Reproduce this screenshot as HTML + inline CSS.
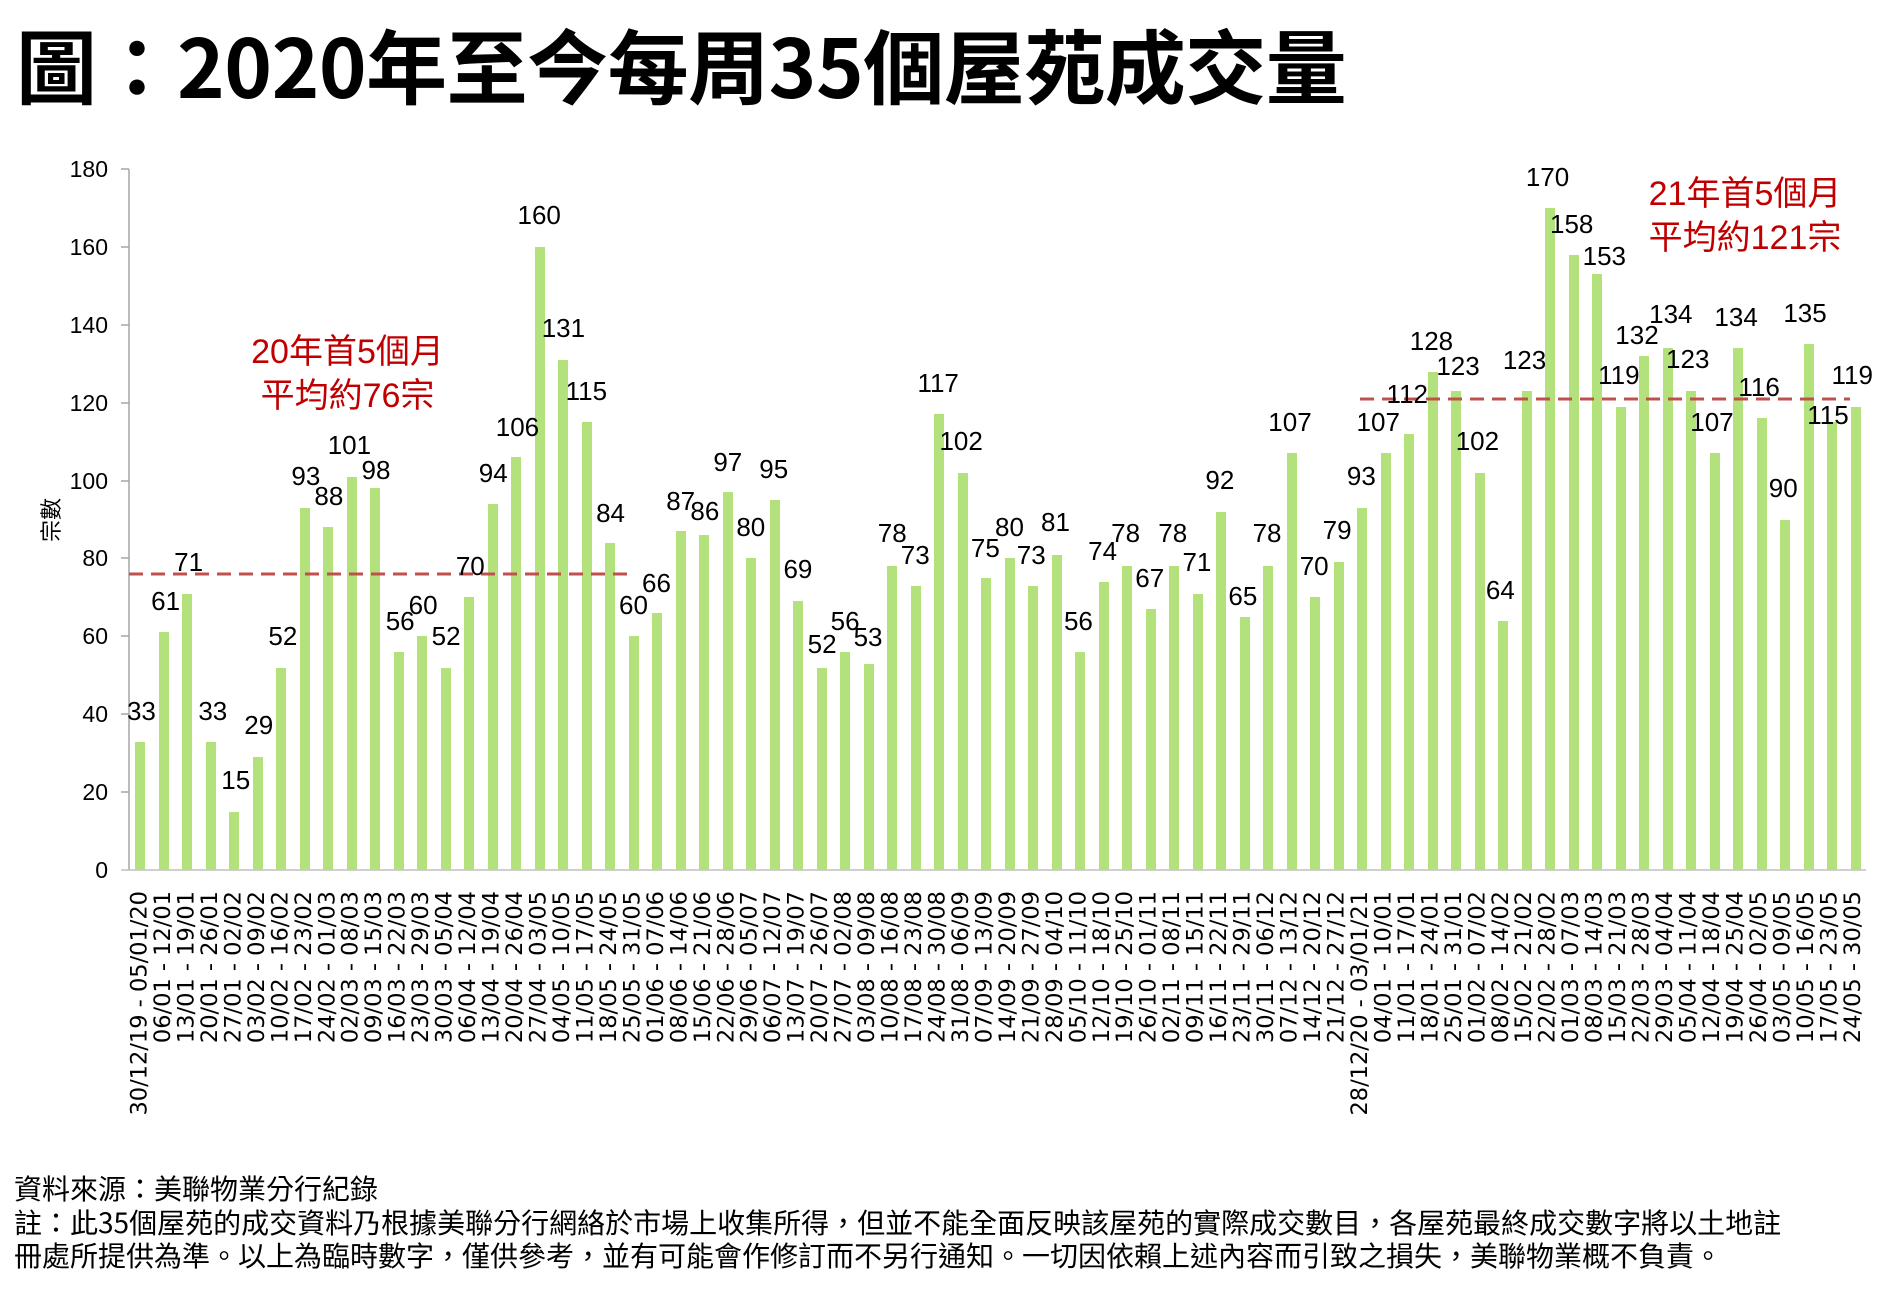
<!DOCTYPE html>
<html><head><meta charset="utf-8"><style>
*{margin:0;padding:0;box-sizing:border-box}
body{width:1896px;height:1296px;background:#fff;position:relative;overflow:hidden;font-family:"Liberation Sans","Noto Sans CJK TC",sans-serif;color:#000}
.t{position:absolute;left:16px;top:14px;font-family:"Noto Sans CJK TC",sans-serif;font-weight:700;font-size:81px;line-height:100px;white-space:nowrap;letter-spacing:-0.5px}
.b{position:absolute;width:10px;background:#b3e27d;bottom:426px;left:calc(135px + 23.5px*var(--i));height:calc(3.894px*var(--v))}
.v{position:absolute;font-size:26px;line-height:28px;white-space:nowrap;transform:translate(-50%,-50%);left:calc(var(--x)*1.209px);top:calc(var(--y)*1.209px)}
.yt{position:absolute;right:1788px;font-size:23px;line-height:24px;transform:translateY(-50%)}
.xl{position:absolute;top:0;left:0;width:300px;text-align:right;font-family:"DejaVu Sans",sans-serif;font-size:22.5px;line-height:23px;white-space:nowrap;transform-origin:0 0;transform:translate(calc(128.5px + 23.47px*var(--i)),891px) rotate(-90deg) translate(-300px,0)}
.r{position:absolute;color:#c00000;font-family:"Liberation Sans","Noto Sans CJK TC",sans-serif;font-size:34px;line-height:44px;white-space:nowrap;text-align:center}
.f{position:absolute;left:14px;font-family:"Noto Sans CJK TC",sans-serif;font-size:28px;line-height:32px;white-space:nowrap}
</style></head><body>
<div class="t">圖：2020年至今每周35個屋苑成交量</div>

<svg style="position:absolute;left:0;top:0" width="1896" height="1296">
<line x1="129" y1="169" x2="129" y2="870" stroke="#a6a6a6" stroke-width="1.5"/>
<line x1="121" y1="870" x2="1866" y2="870" stroke="#bfbfbf" stroke-width="1.5"/>
<g stroke="#a6a6a6" stroke-width="1.5">
<line x1="121" x2="129" y1="169" y2="169"/><line x1="121" x2="129" y1="247" y2="247"/><line x1="121" x2="129" y1="325" y2="325"/><line x1="121" x2="129" y1="403" y2="403"/><line x1="121" x2="129" y1="481" y2="481"/><line x1="121" x2="129" y1="558" y2="558"/><line x1="121" x2="129" y1="636" y2="636"/><line x1="121" x2="129" y1="714" y2="714"/><line x1="121" x2="129" y1="792" y2="792"/>
</g>
</svg>

<div class="yt" style="top:169px">180</div><div class="yt" style="top:247px">160</div><div class="yt" style="top:325px">140</div><div class="yt" style="top:403px">120</div><div class="yt" style="top:481px">100</div><div class="yt" style="top:558px">80</div><div class="yt" style="top:636px">60</div><div class="yt" style="top:714px">40</div><div class="yt" style="top:792px">20</div><div class="yt" style="top:870px">0</div>
<div style="position:absolute;left:28px;top:520px;transform:translate(0,-50%) rotate(-90deg);font-family:'Noto Sans CJK TC',sans-serif;font-size:22px;line-height:24px">宗數</div>

<div class="b" style="--i:0;--v:33"></div><div class="b" style="--i:1;--v:61"></div><div class="b" style="--i:2;--v:71"></div><div class="b" style="--i:3;--v:33"></div><div class="b" style="--i:4;--v:15"></div><div class="b" style="--i:5;--v:29"></div><div class="b" style="--i:6;--v:52"></div><div class="b" style="--i:7;--v:93"></div><div class="b" style="--i:8;--v:88"></div><div class="b" style="--i:9;--v:101"></div><div class="b" style="--i:10;--v:98"></div><div class="b" style="--i:11;--v:56"></div><div class="b" style="--i:12;--v:60"></div><div class="b" style="--i:13;--v:52"></div><div class="b" style="--i:14;--v:70"></div><div class="b" style="--i:15;--v:94"></div><div class="b" style="--i:16;--v:106"></div><div class="b" style="--i:17;--v:160"></div><div class="b" style="--i:18;--v:131"></div><div class="b" style="--i:19;--v:115"></div><div class="b" style="--i:20;--v:84"></div><div class="b" style="--i:21;--v:60"></div><div class="b" style="--i:22;--v:66"></div><div class="b" style="--i:23;--v:87"></div><div class="b" style="--i:24;--v:86"></div><div class="b" style="--i:25;--v:97"></div><div class="b" style="--i:26;--v:80"></div><div class="b" style="--i:27;--v:95"></div><div class="b" style="--i:28;--v:69"></div><div class="b" style="--i:29;--v:52"></div><div class="b" style="--i:30;--v:56"></div><div class="b" style="--i:31;--v:53"></div><div class="b" style="--i:32;--v:78"></div><div class="b" style="--i:33;--v:73"></div><div class="b" style="--i:34;--v:117"></div><div class="b" style="--i:35;--v:102"></div><div class="b" style="--i:36;--v:75"></div><div class="b" style="--i:37;--v:80"></div><div class="b" style="--i:38;--v:73"></div><div class="b" style="--i:39;--v:81"></div><div class="b" style="--i:40;--v:56"></div><div class="b" style="--i:41;--v:74"></div><div class="b" style="--i:42;--v:78"></div><div class="b" style="--i:43;--v:67"></div><div class="b" style="--i:44;--v:78"></div><div class="b" style="--i:45;--v:71"></div><div class="b" style="--i:46;--v:92"></div><div class="b" style="--i:47;--v:65"></div><div class="b" style="--i:48;--v:78"></div><div class="b" style="--i:49;--v:107"></div><div class="b" style="--i:50;--v:70"></div><div class="b" style="--i:51;--v:79"></div>
<div class="b" style="--i:52;--v:93"></div><div class="b" style="--i:53;--v:107"></div><div class="b" style="--i:54;--v:112"></div><div class="b" style="--i:55;--v:128"></div><div class="b" style="--i:56;--v:123"></div><div class="b" style="--i:57;--v:102"></div><div class="b" style="--i:58;--v:64"></div><div class="b" style="--i:59;--v:123"></div><div class="b" style="--i:60;--v:170"></div><div class="b" style="--i:61;--v:158"></div><div class="b" style="--i:62;--v:153"></div><div class="b" style="--i:63;--v:119"></div><div class="b" style="--i:64;--v:132"></div><div class="b" style="--i:65;--v:134"></div><div class="b" style="--i:66;--v:123"></div><div class="b" style="--i:67;--v:107"></div><div class="b" style="--i:68;--v:134"></div><div class="b" style="--i:69;--v:116"></div><div class="b" style="--i:70;--v:90"></div><div class="b" style="--i:71;--v:135"></div><div class="b" style="--i:72;--v:115"></div><div class="b" style="--i:73;--v:119"></div>

<svg style="position:absolute;left:0;top:0" width="1896" height="1296">
<line x1="129" y1="574" x2="629" y2="574" stroke="#c0504d" stroke-width="3" stroke-dasharray="14 8"/>
<line x1="1360" y1="399" x2="1850" y2="399" stroke="#c0504d" stroke-width="3" stroke-dasharray="14 8"/>
</svg>

<div class="v" style="--x:117;--y:588">33</div><div class="v" style="--x:137;--y:497">61</div><div class="v" style="--x:156;--y:465">71</div><div class="v" style="--x:176;--y:588">33</div><div class="v" style="--x:195;--y:645">15</div><div class="v" style="--x:214;--y:600">29</div><div class="v" style="--x:234;--y:526">52</div><div class="v" style="--x:253;--y:394">93</div><div class="v" style="--x:272;--y:410">88</div><div class="v" style="--x:289;--y:368">101</div><div class="v" style="--x:311;--y:389">98</div><div class="v" style="--x:331;--y:514">56</div><div class="v" style="--x:350;--y:500">60</div><div class="v" style="--x:369;--y:526">52</div><div class="v" style="--x:389;--y:468">70</div><div class="v" style="--x:408;--y:391">94</div><div class="v" style="--x:428;--y:353">106</div><div class="v" style="--x:446;--y:178">160</div><div class="v" style="--x:466;--y:271">131</div><div class="v" style="--x:485;--y:323">115</div><div class="v" style="--x:505;--y:424">84</div><div class="v" style="--x:524;--y:500">60</div><div class="v" style="--x:543;--y:482">66</div><div class="v" style="--x:563;--y:414">87</div><div class="v" style="--x:583;--y:423">86</div><div class="v" style="--x:602;--y:382">97</div><div class="v" style="--x:621;--y:436">80</div><div class="v" style="--x:640;--y:388">95</div><div class="v" style="--x:660;--y:471">69</div><div class="v" style="--x:680;--y:533">52</div><div class="v" style="--x:699;--y:514">56</div><div class="v" style="--x:718;--y:527">53</div><div class="v" style="--x:738;--y:441">78</div><div class="v" style="--x:757;--y:459">73</div><div class="v" style="--x:776;--y:317">117</div><div class="v" style="--x:795;--y:365">102</div><div class="v" style="--x:815;--y:453">75</div><div class="v" style="--x:835;--y:436">80</div><div class="v" style="--x:853;--y:459">73</div><div class="v" style="--x:873;--y:432">81</div><div class="v" style="--x:892;--y:514">56</div><div class="v" style="--x:912;--y:456">74</div><div class="v" style="--x:931;--y:441">78</div><div class="v" style="--x:951;--y:478">67</div><div class="v" style="--x:970;--y:441">78</div><div class="v" style="--x:990;--y:465">71</div><div class="v" style="--x:1009;--y:397">92</div><div class="v" style="--x:1028;--y:493">65</div><div class="v" style="--x:1048;--y:441">78</div><div class="v" style="--x:1067;--y:349">107</div><div class="v" style="--x:1087;--y:468">70</div><div class="v" style="--x:1106;--y:438">79</div>
<div class="v" style="--x:1126;--y:394">93</div><div class="v" style="--x:1140;--y:349">107</div><div class="v" style="--x:1164;--y:326">112</div><div class="v" style="--x:1184;--y:282">128</div><div class="v" style="--x:1206;--y:303">123</div><div class="v" style="--x:1222;--y:365">102</div><div class="v" style="--x:1241;--y:488">64</div><div class="v" style="--x:1261;--y:298">123</div><div class="v" style="--x:1280;--y:146">170</div><div class="v" style="--x:1300;--y:185">158</div><div class="v" style="--x:1327;--y:212">153</div><div class="v" style="--x:1339;--y:310">119</div><div class="v" style="--x:1354;--y:277">132</div><div class="v" style="--x:1382;--y:260">134</div><div class="v" style="--x:1396;--y:297">123</div><div class="v" style="--x:1416;--y:349">107</div><div class="v" style="--x:1436;--y:262">134</div><div class="v" style="--x:1455;--y:320">116</div><div class="v" style="--x:1475;--y:404">90</div><div class="v" style="--x:1493;--y:259">135</div><div class="v" style="--x:1512;--y:343">115</div><div class="v" style="--x:1532;--y:310">119</div>

<div class="r" style="left:250px;top:330px;width:195px">20年首5個月<br>平均約76宗</div>
<div class="r" style="left:1638px;top:172px;width:214px">21年首5個月<br>平均約121宗</div>

<div class="xl" style="--i:0">30/12/19 - 05/01/20</div><div class="xl" style="--i:1">06/01 - 12/01</div><div class="xl" style="--i:2">13/01 - 19/01</div><div class="xl" style="--i:3">20/01 - 26/01</div><div class="xl" style="--i:4">27/01 - 02/02</div><div class="xl" style="--i:5">03/02 - 09/02</div><div class="xl" style="--i:6">10/02 - 16/02</div><div class="xl" style="--i:7">17/02 - 23/02</div><div class="xl" style="--i:8">24/02 - 01/03</div><div class="xl" style="--i:9">02/03 - 08/03</div><div class="xl" style="--i:10">09/03 - 15/03</div><div class="xl" style="--i:11">16/03 - 22/03</div><div class="xl" style="--i:12">23/03 - 29/03</div><div class="xl" style="--i:13">30/03 - 05/04</div><div class="xl" style="--i:14">06/04 - 12/04</div><div class="xl" style="--i:15">13/04 - 19/04</div><div class="xl" style="--i:16">20/04 - 26/04</div><div class="xl" style="--i:17">27/04 - 03/05</div><div class="xl" style="--i:18">04/05 - 10/05</div><div class="xl" style="--i:19">11/05 - 17/05</div><div class="xl" style="--i:20">18/05 - 24/05</div><div class="xl" style="--i:21">25/05 - 31/05</div><div class="xl" style="--i:22">01/06 - 07/06</div><div class="xl" style="--i:23">08/06 - 14/06</div><div class="xl" style="--i:24">15/06 - 21/06</div><div class="xl" style="--i:25">22/06 - 28/06</div><div class="xl" style="--i:26">29/06 - 05/07</div><div class="xl" style="--i:27">06/07 - 12/07</div><div class="xl" style="--i:28">13/07 - 19/07</div><div class="xl" style="--i:29">20/07 - 26/07</div><div class="xl" style="--i:30">27/07 - 02/08</div><div class="xl" style="--i:31">03/08 - 09/08</div><div class="xl" style="--i:32">10/08 - 16/08</div><div class="xl" style="--i:33">17/08 - 23/08</div><div class="xl" style="--i:34">24/08 - 30/08</div><div class="xl" style="--i:35">31/08 - 06/09</div><div class="xl" style="--i:36">07/09 - 13/09</div><div class="xl" style="--i:37">14/09 - 20/09</div><div class="xl" style="--i:38">21/09 - 27/09</div><div class="xl" style="--i:39">28/09 - 04/10</div><div class="xl" style="--i:40">05/10 - 11/10</div><div class="xl" style="--i:41">12/10 - 18/10</div><div class="xl" style="--i:42">19/10 - 25/10</div><div class="xl" style="--i:43">26/10 - 01/11</div><div class="xl" style="--i:44">02/11 - 08/11</div><div class="xl" style="--i:45">09/11 - 15/11</div><div class="xl" style="--i:46">16/11 - 22/11</div><div class="xl" style="--i:47">23/11 - 29/11</div><div class="xl" style="--i:48">30/11 - 06/12</div><div class="xl" style="--i:49">07/12 - 13/12</div><div class="xl" style="--i:50">14/12 - 20/12</div><div class="xl" style="--i:51">21/12 - 27/12</div>
<div class="xl" style="--i:52">28/12/20 - 03/01/21</div><div class="xl" style="--i:53">04/01 - 10/01</div><div class="xl" style="--i:54">11/01 - 17/01</div><div class="xl" style="--i:55">18/01 - 24/01</div><div class="xl" style="--i:56">25/01 - 31/01</div><div class="xl" style="--i:57">01/02 - 07/02</div><div class="xl" style="--i:58">08/02 - 14/02</div><div class="xl" style="--i:59">15/02 - 21/02</div><div class="xl" style="--i:60">22/02 - 28/02</div><div class="xl" style="--i:61">01/03 - 07/03</div><div class="xl" style="--i:62">08/03 - 14/03</div><div class="xl" style="--i:63">15/03 - 21/03</div><div class="xl" style="--i:64">22/03 - 28/03</div><div class="xl" style="--i:65">29/03 - 04/04</div><div class="xl" style="--i:66">05/04 - 11/04</div><div class="xl" style="--i:67">12/04 - 18/04</div><div class="xl" style="--i:68">19/04 - 25/04</div><div class="xl" style="--i:69">26/04 - 02/05</div><div class="xl" style="--i:70">03/05 - 09/05</div><div class="xl" style="--i:71">10/05 - 16/05</div><div class="xl" style="--i:72">17/05 - 23/05</div><div class="xl" style="--i:73">24/05 - 30/05</div>

<div class="f" style="top:1172px">資料來源：美聯物業分行紀錄</div>
<div class="f" style="top:1206px">註：此35個屋苑的成交資料乃根據美聯分行網絡於市場上收集所得，但並不能全面反映該屋苑的實際成交數目，各屋苑最終成交數字將以土地註</div>
<div class="f" style="top:1239px">冊處所提供為準。以上為臨時數字，僅供參考，並有可能會作修訂而不另行通知。一切因依賴上述內容而引致之損失，美聯物業概不負責。</div>
</body></html>
